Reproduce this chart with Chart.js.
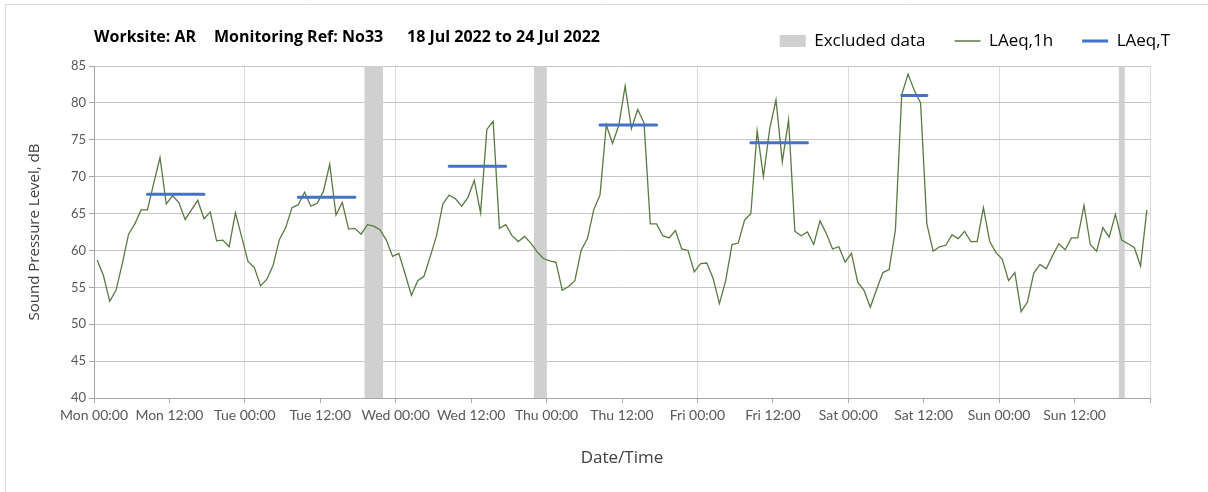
<!DOCTYPE html>
<html>
<head>
<meta charset="utf-8">
<script src="https://cdn.jsdelivr.net/npm/chart.js@4.4.1/dist/chart.umd.min.js"></script>
<style>
html,body{margin:0;padding:0;background:#fff;}
#wrap{width:1208px;height:492px;position:relative;}
</style>
</head>
<body>
<div id="wrap"><canvas id="c" width="1208" height="492"></canvas></div>
<script>
// ---------------- data ----------------
const titleParts = ['Worksite: AR', 'Monitoring Ref: No33', '18 Jul 2022 to 24 Jul 2022'];
const seriesNames = ['Excluded data', 'LAeq,1h', 'LAeq,T'];
const tickLabels = ['Mon 00:00','Mon 12:00','Tue 00:00','Tue 12:00','Wed 00:00','Wed 12:00',
  'Thu 00:00','Thu 12:00','Fri 00:00','Fri 12:00','Sat 00:00','Sat 12:00','Sun 00:00','Sun 12:00',''];
// hourly LAeq,1h, hour 0 = Mon 00:00
const laeq1h = [
  58.7,56.6,53.1,54.6,58.2,62.2,63.6,65.5,65.5,69.1,72.6,66.3,67.4,66.5,64.2,65.5,66.8,64.3,65.2,61.3,61.4,60.5,65.1,61.8,
  58.5,57.7,55.2,56.1,58.0,61.5,63.1,65.8,66.2,67.9,66.0,66.4,68.0,71.7,64.8,66.5,62.9,63.0,62.2,63.5,63.3,62.8,61.4,59.2,
  59.6,56.8,53.9,55.9,56.5,59.2,62.0,66.3,67.5,67.0,66.0,67.2,69.5,65.1,76.4,77.5,63.0,63.5,62.0,61.2,61.9,61.0,59.8,58.9,
  58.6,58.4,54.6,55.1,55.9,60.0,61.6,65.5,67.5,77.0,74.5,77.0,82.3,76.5,79.1,77.3,63.6,63.6,62.0,61.7,62.7,60.2,60.0,57.1,
  58.2,58.3,56.2,52.8,55.9,60.8,61.0,64.1,65.0,76.2,70.0,76.5,80.4,72.0,77.7,62.6,62.0,62.5,60.8,64.0,62.3,60.2,60.5,58.4,
  59.6,55.7,54.6,52.3,54.7,57.0,57.4,62.8,81.1,83.9,81.7,80.0,63.6,59.9,60.5,60.7,62.1,61.6,62.6,61.2,61.2,65.8,61.2,59.7,
  58.8,55.9,57.0,51.7,53.0,56.9,58.1,57.5,59.3,60.9,60.1,61.7,61.7,66.1,60.8,59.9,63.1,61.8,64.9,61.4,60.9,60.4,57.9,65.5
];
// LAeq,T periods (first and last hourly index covered) and levels
const periodFirstHour = [8, 32, 56, 80, 104, 128];
const periodLastHour  = [17, 41, 65, 89, 113, 132];
const periodLevel     = [67.6, 67.2, 71.4, 77.0, 74.6, 81.0];
// excluded data periods (hours from Mon 00:00)
const excludedStart = [43, 70, 163];
const excludedEnd   = [46, 72, 164];

// ---------------- styles ----------------
const GREEN = '#5a7a42';
const BLUE = '#4472c4';
const GREY = '#d0d0d0';

const datasets = [];
excludedStart.forEach((s, k) => {
  datasets.push({
    type: 'line', label: seriesNames[0],
    data: [{x: s, y: 85}, {x: excludedEnd[k], y: 85}],
    fill: 'start', backgroundColor: GREY, borderColor: GREY, borderWidth: 0,
    pointRadius: 0, order: 3
  });
});
datasets.push({
  type: 'line', label: seriesNames[1],
  data: laeq1h.map((v, i) => ({x: i + 0.5, y: v})),
  borderColor: GREEN, borderWidth: 1.3, pointRadius: 0, tension: 0, fill: false, order: 2
});
const periodData = [];
periodLevel.forEach((v, k) => {
  periodData.push({x: periodFirstHour[k] + 0.5, y: v});
  periodData.push({x: periodLastHour[k] + 0.5, y: v});
  periodData.push({x: periodLastHour[k] + 0.6, y: null});
});
datasets.push({
  type: 'line', label: seriesNames[2], data: periodData,
  borderColor: BLUE, borderWidth: 3, borderCapStyle: 'round', pointRadius: 0,
  spanGaps: false, fill: false, order: 1
});

const frame = {
  id: 'frame',
  beforeInit(chart) {
    const orig = chart.legend.fit;
    chart.legend.fit = function () { orig.call(this); this.height = 62.5; };
  },
  beforeDraw(chart) {
    const ctx = chart.ctx;
    ctx.save();
    ctx.fillStyle = '#fff';
    ctx.fillRect(0, 0, chart.width, chart.height);
    ctx.strokeStyle = '#d9d9d9';
    ctx.lineWidth = 1;
    ctx.beginPath();
    ctx.moveTo(5.5, chart.height); ctx.lineTo(5.5, 4.5); ctx.lineTo(chart.width, 4.5);
    ctx.stroke();
    ctx.restore();
  },
  afterDraw(chart) {
    const ctx = chart.ctx;
    ctx.save();
    ctx.fillStyle = '#000';
    ctx.font = 'bold 16px "Open Sans"';
    ctx.textBaseline = 'middle';
    const xs = [94, 214, 407];
    titleParts.forEach((t, k) => ctx.fillText(t, xs[k], 37));
    ctx.restore();
  }
};

new Chart(document.getElementById('c'), {
  type: 'line',
  data: {datasets},
  options: {
    responsive: false,
    animation: false,
    events: [],
    layout: {padding: {left: 5, right: 9, top: 3.5, bottom: 0}},
    plugins: {
      title: {display: false},
      tooltip: {enabled: false},
      legend: {
        display: true, position: 'top', align: 'end',
        onClick: null,
        labels: {
          usePointStyle: true, pointStyleWidth: 26, boxHeight: 12,
          padding: 29, color: '#404040',
          font: {family: 'Open Sans', size: 17},
          generateLabels: () => [
            {text: seriesNames[0], fillStyle: GREY, strokeStyle: GREY, lineWidth: 0, pointStyle: 'rect', hidden: false},
            {text: seriesNames[1], fillStyle: GREEN, strokeStyle: GREEN, lineWidth: 1.3, pointStyle: 'line', hidden: false},
            {text: seriesNames[2], fillStyle: BLUE, strokeStyle: BLUE, lineWidth: 3, pointStyle: 'line', hidden: false}
          ]
        }
      }
    },
    scales: {
      x: {
        type: 'linear', min: 0, max: 168,
        ticks: {
          stepSize: 12, autoSkip: false, maxRotation: 0, padding: 4,
          color: '#595959', font: {family: 'Lato', size: 14},
          callback: (v) => tickLabels[Math.round(v / 12)] ?? ''
        },
        grid: {
          color: (c) => (c.tick && c.tick.value > 0 && c.tick.value % 24 === 0) ? '#dcdcdc' : 'rgba(0,0,0,0)',
          tickColor: '#a6a6a6', tickLength: 5
        },
        border: {color: '#a6a6a6'},
        title: {display: true, text: 'Date/Time', color: '#404040',
          font: {family: 'Open Sans', size: 17}, padding: {top: 0, bottom: 24}},
        afterFit: (s) => { s.height = 94; }
      },
      y: {
        type: 'linear', min: 40, max: 85,
        ticks: {stepSize: 5, padding: 3, color: '#595959', font: {family: 'Lato', size: 13}},
        grid: {color: '#c6c6c6', tickColor: '#a6a6a6', tickLength: 5},
        border: {color: '#a6a6a6'},
        title: {display: true, text: 'Sound Pressure Level, dB', color: '#404040',
          font: {family: 'Open Sans', size: 15}, padding: {top: 21, bottom: 0}},
        afterFit: (s) => { s.width = 89; }
      },
      y2: {
        type: 'linear', position: 'right', display: true,
        grid: {display: false}, border: {display: false}, ticks: {display: false},
        afterFit: (s) => { s.width = 49; }
      }
    }
  },
  plugins: [frame]
});
</script>
</body>
</html>
